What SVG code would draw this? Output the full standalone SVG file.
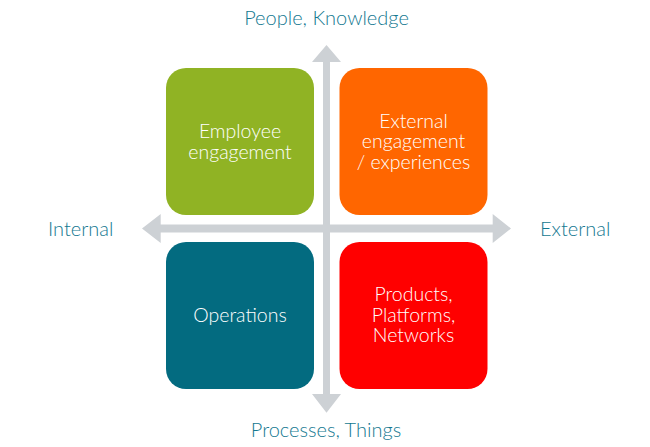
<svg xmlns="http://www.w3.org/2000/svg" width="650" height="447" viewBox="0 0 650 447">
<style>
.axis{fill:#cdd1d5}
.lbl{font-family:Lato,"Open Sans",sans-serif;font-weight:300;font-size:20px;fill:#137890}
.box-t{font-family:Lato,"Open Sans",sans-serif;font-weight:300;font-size:19.5px;fill:#ffffff;text-anchor:middle}
</style>
<rect width="650" height="447" fill="#ffffff"/>
<g id="connectors">
<polygon class="axis" points="323,412 323,62 312,62 326.5,45 341,62 330,62 330,394 341,394 326.5,412.7 312,394 323,394"/>
<polygon class="axis" points="160.7,224.5 160.7,214 142,228.5 160.7,243 160.7,232.5 492.7,232.5 492.7,243 511,228.5 492.7,214 492.7,224.5"/>
</g>
<g id="employee">
<rect x="166" y="68" width="148" height="147" rx="20" fill="#90b324"/>
<text class="box-t" x="240" y="138">Employee</text>
<text class="box-t" x="240" y="158.5">engagement</text>
</g>
<g id="external-engagement">
<rect x="339.5" y="68" width="148" height="147" rx="20" fill="#ff6600"/>
<text class="box-t" x="413.5" y="127.5">External</text>
<text class="box-t" x="413.5" y="148">engagement</text>
<text class="box-t" x="413.5" y="168.5">/ experiences</text>
</g>
<g id="operations">
<rect x="166" y="242" width="148" height="147" rx="20" fill="#036b80"/>
<text class="box-t" x="240" y="321.7">Operations</text>
</g>
<g id="products">
<rect x="339.5" y="242" width="148" height="147" rx="20" fill="#ff0000"/>
<text class="box-t" x="413.5" y="301">Products,</text>
<text class="box-t" x="413.5" y="321.7">Platforms,</text>
<text class="box-t" x="413.5" y="342.3">Networks</text>
</g>
<g id="labels">
<text class="lbl" x="326.5" y="25.3" text-anchor="middle">People, Knowledge</text>
<text class="lbl" x="48" y="235.7">Internal</text>
<text class="lbl" x="540" y="235.7">External</text>
<text class="lbl" x="326" y="436.7" text-anchor="middle">Processes, Things</text>
</g>
</svg>
